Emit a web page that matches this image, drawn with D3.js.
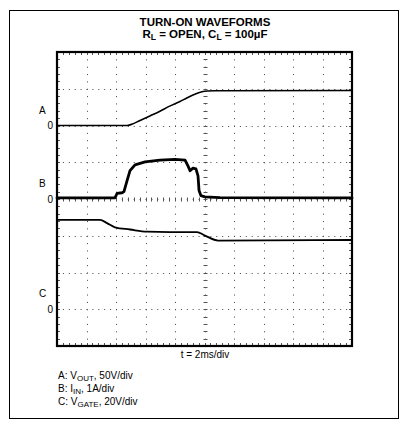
<!DOCTYPE html>
<html>
<head>
<meta charset="utf-8">
<script src="https://cdnjs.cloudflare.com/ajax/libs/d3/7.8.5/d3.min.js"></script>
<style>
  body { margin: 0; background: #fff; }
  svg { display: block; font-family: "Liberation Sans", Arial, Helvetica, sans-serif; }
  .grid { stroke: #444; stroke-width: 1; fill: none; }
  .tick { stroke: #555; stroke-width: 1; }
  .trace { fill: none; stroke: #000; stroke-linejoin: round; stroke-linecap: round; }
</style>
</head>
<body>
<div id="chart"></div>
<script>
// scope settings: 2ms/div, 10 x 8 divisions
var timeDivs = 10, msPerDiv = 2, vertDivs = 8, minorPerDiv = 5;

// channel A: VOUT (V), 50V/div, zero 6 div from bottom
var aTime  = [0, 4.75, 5.0, 5.63, 6.3, 6.98, 7.6, 8.34, 8.8, 9.22, 9.6, 9.9, 10.2, 10.7, 20];
var aVolts = [0, 0, 1.2, 6.8, 13, 19.5, 26, 32.7, 37.5, 41.6, 44.6, 46.3, 46.9, 47.2, 47.6];

// channel B: IIN (A), 1A/div, zero 4 div from bottom
var bTime = [0, 3.93, 4.07, 4.41, 4.54, 4.75, 4.95, 5.29, 5.97, 6.98, 8.0, 8.68, 8.88, 9.02, 9.22, 9.42, 9.56, 9.63, 9.76, 10.03, 11.05, 20];
var bAmps = [0.03, 0.03, 0.15, 0.17, 0.2, 0.5, 0.77, 0.93, 1.01, 1.06, 1.08, 1.06, 0.9, 0.77, 0.84, 0.82, 0.63, 0.23, 0.09, 0.06, 0.04, 0.03];

// channel C: VGATE (V), 20V/div, zero 1 div from bottom
var cTime  = [0, 2.92, 3.39, 3.93, 4.95, 6.1, 7.66, 9.49, 10.03, 10.92, 20];
var cVolts = [48.6, 48.6, 46.9, 44.6, 43.4, 42.2, 42.0, 42.0, 40.1, 37.4, 37.7];

var channels = [
  {name: "A", zero: 6, perDiv: 50, time: aTime, values: aVolts, width: 1.6, curve: d3.curveMonotoneX},
  {name: "B", zero: 4, perDiv: 1,  time: bTime, values: bAmps,  width: 2.8, curve: d3.curveLinear},
  {name: "C", zero: 1, perDiv: 20, time: cTime, values: cVolts, width: 1.8, curve: d3.curveMonotoneX}
];

var legendRows = [
  ["A: V", "OUT", ", 50V/div"],
  ["B: I", "IN", ", 1A/div"],
  ["C: V", "GATE", ", 20V/div"]
];

var W = 409, H = 431;
var plot = {left: 57, right: 352, top: 52, bottom: 346};

var svg = d3.select("#chart").append("svg")
    .attr("width", W)
    .attr("height", H);

// outer frame
svg.append("rect")
    .attr("x", 9.5).attr("y", 10.5)
    .attr("width", 389).attr("height", 408)
    .attr("fill", "none").attr("stroke", "#000").attr("stroke-width", 1);

var x = d3.scaleLinear().domain([0, timeDivs * msPerDiv]).range([plot.left, plot.right]);
var y = d3.scaleLinear().domain([0, vertDivs]).range([plot.bottom, plot.top]);

var minorX = d3.range(0, timeDivs * minorPerDiv + 1).map(function(i) { return i * msPerDiv / minorPerDiv; });
var minorY = d3.range(0, vertDivs * minorPerDiv + 1).map(function(i) { return i / minorPerDiv; });
var dx = x(msPerDiv / minorPerDiv) - x(0);
var dy = y(0) - y(1 / minorPerDiv);

// dotted grid lines
svg.append("g").selectAll("line")
    .data(d3.range(1, timeDivs).map(function(i) { return i * msPerDiv; }))
  .enter().append("line")
    .attr("class", "grid")
    .attr("x1", function(d) { return Math.round(x(d)) + 0.5; })
    .attr("x2", function(d) { return Math.round(x(d)) + 0.5; })
    .attr("y1", plot.top).attr("y2", plot.bottom)
    .attr("stroke-dasharray", "1," + (dy - 1));

svg.append("g").selectAll("line")
    .data(d3.range(1, vertDivs))
  .enter().append("line")
    .attr("class", "grid")
    .attr("y1", function(d) { return Math.round(y(d)) + 0.5; })
    .attr("y2", function(d) { return Math.round(y(d)) + 0.5; })
    .attr("x1", plot.left).attr("x2", plot.right)
    .attr("stroke-dasharray", "1," + (dx - 1));

// center axes with minor ticks
var cx = Math.round(x(timeDivs * msPerDiv / 2)) + 0.5;
var cy = Math.round(y(vertDivs / 2)) + 0.5;

svg.append("g").selectAll("line")
    .data(minorX)
  .enter().append("line")
    .attr("class", "tick")
    .attr("x1", function(d) { return Math.round(x(d)) + 0.5; })
    .attr("x2", function(d) { return Math.round(x(d)) + 0.5; })
    .attr("y1", cy - 2).attr("y2", cy + 2);

svg.append("g").selectAll("line")
    .data(minorY)
  .enter().append("line")
    .attr("class", "tick")
    .attr("y1", function(d) { return Math.round(y(d)) + 0.5; })
    .attr("y2", function(d) { return Math.round(y(d)) + 0.5; })
    .attr("x1", cx - 2).attr("x2", cx + 2);

// small ticks on the inside of the border
var edge = svg.append("g");
minorX.forEach(function(d) {
  var px = Math.round(x(d)) + 0.5;
  edge.append("line").attr("class", "tick").attr("x1", px).attr("x2", px).attr("y1", plot.top).attr("y2", plot.top + 3);
  edge.append("line").attr("class", "tick").attr("x1", px).attr("x2", px).attr("y1", plot.bottom - 3).attr("y2", plot.bottom);
});
minorY.forEach(function(d) {
  var py = Math.round(y(d)) + 0.5;
  edge.append("line").attr("class", "tick").attr("y1", py).attr("y2", py).attr("x1", plot.left).attr("x2", plot.left + 3);
  edge.append("line").attr("class", "tick").attr("y1", py).attr("y2", py).attr("x1", plot.right - 3).attr("x2", plot.right);
});

// plot border
svg.append("rect")
    .attr("x", plot.left).attr("y", plot.top)
    .attr("width", plot.right - plot.left).attr("height", plot.bottom - plot.top)
    .attr("fill", "none").attr("stroke", "#000").attr("stroke-width", 2.2);

// traces
channels.forEach(function(ch) {
  var pts = ch.time.map(function(t, i) { return [t, ch.zero + ch.values[i] / ch.perDiv]; });
  var line = d3.line()
      .curve(ch.curve)
      .x(function(d) { return x(d[0]); })
      .y(function(d) { return y(d[1]); });
  svg.append("path")
      .datum(pts)
      .attr("class", "trace")
      .attr("stroke-width", ch.width)
      .attr("d", line);

  // channel letter and zero marker
  svg.append("text")
      .attr("x", 39).attr("y", y(ch.zero) - 12)
      .attr("font-size", 10)
      .text(ch.name);
  svg.append("text")
      .attr("x", 53).attr("y", y(ch.zero) + 3.5)
      .attr("font-size", 10)
      .attr("text-anchor", "end")
      .text("0");
});

// title
svg.append("text")
    .attr("x", 205).attr("y", 25.5)
    .attr("text-anchor", "middle")
    .attr("font-size", 11.5).attr("font-weight", "bold")
    .text("TURN-ON WAVEFORMS");

var sub = svg.append("text")
    .attr("x", 205).attr("y", 37.5)
    .attr("text-anchor", "middle")
    .attr("font-size", 11.5).attr("font-weight", "bold");
sub.append("tspan").text("R");
sub.append("tspan").attr("font-size", 8.5).attr("dy", 2.5).text("L");
sub.append("tspan").attr("dy", -2.5).text(" = OPEN, C");
sub.append("tspan").attr("font-size", 8.5).attr("dy", 2.5).text("L");
sub.append("tspan").attr("dy", -2.5).text(" = 100µF");

// time base
svg.append("text")
    .attr("x", 205).attr("y", 358)
    .attr("text-anchor", "middle")
    .attr("font-size", 10)
    .text("t = 2ms/div");

// legend
legendRows.forEach(function(r, i) {
  var t = svg.append("text")
      .attr("x", 58).attr("y", 379 + i * 13)
      .attr("font-size", 10);
  t.append("tspan").text(r[0]);
  t.append("tspan").attr("font-size", 8).attr("dy", 2).text(r[1]);
  t.append("tspan").attr("dy", -2).text(r[2]);
});
</script>
</body>
</html>
